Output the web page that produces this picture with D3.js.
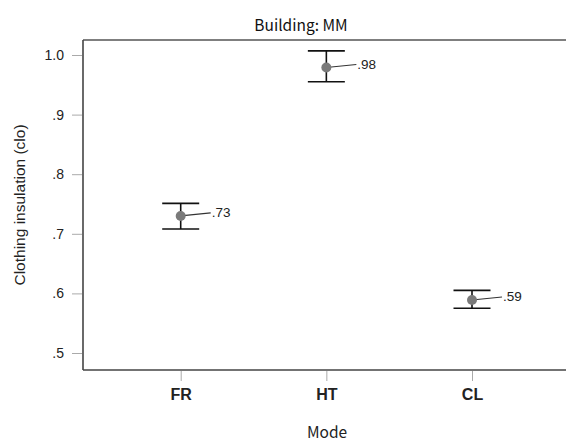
<!DOCTYPE html>
<html><head><meta charset="utf-8">
<script src="https://cdn.jsdelivr.net/npm/d3@7"></script>
<style>body{margin:0;background:#fff}svg{display:block}</style>
</head><body>
<script>
const categories = ["FR", "HT", "CL"];
const means = [0.730, 0.979, 0.589];
const lower = [0.708, 0.955, 0.575];
const upper = [0.751, 1.007, 0.605];
const pointLabels = [".73", ".98", ".59"];
const yTicks = [0.5, 0.6, 0.7, 0.8, 0.9, 1.0];
const yTickLabels = [".5", ".6", ".7", ".8", ".9", "1.0"];

(function () {
const W = 566, H = 441;
const svg = d3.select("body").append("svg").attr("width", W).attr("height", H);
const pL = 83, pT = 40, pB = 370, pR = 570;

const x = d3.scalePoint().domain(categories).range([180.7, 472]);
const y = d3.scaleLinear().domain([0.5, 1.0]).range([353, 55]);

const font = "Liberation Sans, Arial, sans-serif";
const jfont = "'Noto Sans CJK JP', 'Liberation Sans', sans-serif";

// frame
svg.append("line").attr("x1", pL).attr("x2", pR).attr("y1", pT).attr("y2", pT).attr("stroke", "#555").attr("stroke-width", 1.6);
svg.append("line").attr("x1", pL).attr("x2", pR).attr("y1", pB).attr("y2", pB).attr("stroke", "#444").attr("stroke-width", 1.6);
svg.append("line").attr("x1", pL).attr("x2", pL).attr("y1", pT).attr("y2", pB).attr("stroke", "#444").attr("stroke-width", 1.6);

// y axis
const yAxis = d3.axisLeft(y).tickValues(yTicks).tickFormat((d, i) => yTickLabels[i]).tickSize(10).tickPadding(8);
const gy = svg.append("g").attr("transform", `translate(${pL - 1},0)`).call(yAxis);
gy.select(".domain").remove();
gy.selectAll(".tick line").attr("stroke", "#aaa");
gy.selectAll(".tick text").attr("font-family", font).attr("font-size", 14).attr("fill", "#222");

// x axis
const xAxis = d3.axisBottom(x).tickSize(10).tickPadding(8);
const gx = svg.append("g").attr("transform", `translate(0,${pB + 1})`).call(xAxis);
gx.select(".domain").remove();
gx.selectAll(".tick line").attr("stroke", "#aaa");
gx.selectAll(".tick text").attr("font-family", font).attr("font-size", 16).attr("font-weight", "bold").attr("fill", "#222");

// title & axis titles
svg.append("text").attr("x", 301).attr("y", 31).attr("text-anchor", "middle")
  .attr("font-family", jfont).attr("font-size", 15.5).attr("fill", "#111").text("Building: MM");
svg.append("text").attr("x", 327).attr("y", 438).attr("text-anchor", "middle")
  .attr("font-family", jfont).attr("font-size", 15.5).attr("fill", "#222").text("Mode");
svg.append("text").attr("transform", `translate(25,${(pT + pB) / 2}) rotate(-90)`).attr("text-anchor", "middle")
  .attr("font-family", font).attr("font-size", 15.5).attr("fill", "#222").text("Clothing insulation (clo)");

// error bars
const g = svg.append("g");
categories.forEach((c, i) => {
  const cx = x(c);
  g.append("line").attr("x1", cx).attr("x2", cx).attr("y1", y(upper[i])).attr("y2", y(lower[i])).attr("stroke", "#111").attr("stroke-width", 1.6);
  [upper[i], lower[i]].forEach(v => {
    g.append("line").attr("x1", cx - 18.5).attr("x2", cx + 18.5).attr("y1", y(v)).attr("y2", y(v)).attr("stroke", "#111").attr("stroke-width", 1.6);
  });
  const lx = cx + 30, ly = y(means[i]) - 3;
  g.append("line").attr("x1", cx).attr("y1", y(means[i])).attr("x2", lx).attr("y2", ly).attr("stroke", "#333").attr("stroke-width", 1.1);
  g.append("text").attr("x", lx + 1).attr("y", ly + 4.5).attr("font-family", font).attr("font-size", 13.5).attr("fill", "#222").text(pointLabels[i]);
  g.append("circle").attr("cx", cx).attr("cy", y(means[i])).attr("r", 5).attr("fill", "#7a7a7a");
});
})();
</script>
</body></html>
